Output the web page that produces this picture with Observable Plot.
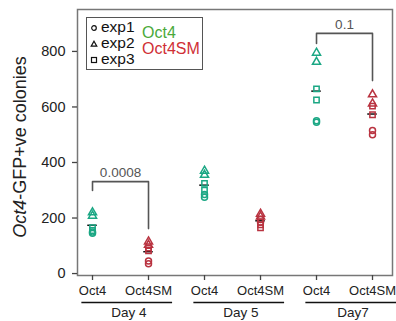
<!DOCTYPE html>
<html><head><meta charset="utf-8">
<script src="https://cdn.jsdelivr.net/npm/d3@7"></script>
<script src="https://cdn.jsdelivr.net/npm/@observablehq/plot@0.6"></script>
<style>
body{margin:0;background:#fff;font-family:"Liberation Sans",Arial,sans-serif;}
#wrap{position:relative;width:396px;height:321px;}
#legend{position:absolute;left:86px;top:17px;width:117px;height:53px;border:1.5px solid #555;box-sizing:border-box;background:#fff;font-size:15.5px;color:#111;}
#legend .row{position:absolute;left:3px;height:16px;line-height:16px;white-space:nowrap;}
#legend .row svg{vertical-align:middle;margin-right:3px;}
#legend .tr{position:absolute;left:55px;font-size:16px;line-height:15px;white-space:nowrap;}
</style></head><body><div id="wrap"></div>
<script>
// ---- data ----
const categories = ["Oct4", "Oct4SM", "Oct4", "Oct4SM", "Oct4", "Oct4SM"];
const positions = [1, 2, 3, 4, 5, 6];
const days = ["Day 4", "Day 5", "Day7"];
const experiments = ["exp1", "exp2", "exp3"];
// two replicate values per experiment, per position
const exp1 = [[145, 150], [35, 45], [285, 275], [195, 185], [550, 545], [515, 500]];
const exp2 = [[220, 208], [115, 103], [370, 355], [215, 205], [795, 762], [645, 612]];
const exp3 = [[165, 155], [92, 82], [325, 300], [175, 165], [665, 625], [603, 572]];
// significance brackets
const bracketLabels = ["0.0008", "0.1"];
const bracketLeft = [1, 5];
const bracketRight = [2, 6];
const bracketTop = [331, 865];
const bracketLeftEnd = [299, 829];
const bracketRightEnd = [162, 695];

// ---- build tables ----
const expVals = {exp1, exp2, exp3};
const data = [];
positions.forEach((p, i) => {
  experiments.forEach(e => expVals[e][i].forEach(v => data.push({pos: p, treatment: categories[i], exp: e, value: v})));
});
const means = positions.map((p, i) => ({pos: p, mean: d3.mean(data.filter(d => d.pos === p), d => d.value)}));
const bracketPts = [];
bracketLabels.forEach((l, k) => {
  bracketPts.push({id: k, x: bracketLeft[k], y: bracketLeftEnd[k]});
  bracketPts.push({id: k, x: bracketLeft[k], y: bracketTop[k]});
  bracketPts.push({id: k, x: bracketRight[k], y: bracketTop[k]});
  bracketPts.push({id: k, x: bracketRight[k], y: bracketRightEnd[k]});
});
const brackets = bracketLabels.map((l, k) => ({label: l, x: (bracketLeft[k] + bracketRight[k]) / 2, y: bracketTop[k]}));
const groups = days.map((d, k) => ({day: d, a: positions[2 * k], b: positions[2 * k + 1]}));
const yDomain = [-7, 951];

const chart = Plot.plot({
  width: 396, height: 321,
  marginLeft: 77, marginRight: 4, marginTop: 9, marginBottom: 46,
  style: {fontFamily: "'Liberation Sans', Arial, sans-serif", fontSize: "13px", color: "#222", background: "white"},
  x: {type: "linear", domain: [0.732, 6.357]},
  y: {domain: yDomain},
  color: {domain: ["Oct4", "Oct4SM"], range: ["#1ba784", "#b93340"]},
  symbol: {domain: experiments, range: ["circle", "triangle", "square"]},
  marks: [
    Plot.frame({stroke: "#777", strokeWidth: 1.5}),
    Plot.axisY({ticks: [0, 200, 400, 600, 800], tickSize: 5, tickPadding: 7, label: null, fontSize: 14.5, stroke: "#444", strokeWidth: 1.3}),
    Plot.axisX({ticks: positions, tickFormat: i => categories[i - 1], tickSize: 5, tickPadding: 5, label: null, fontSize: 13, stroke: "#444", strokeWidth: 1.3}),
    Plot.ruleY(means, {y: "mean", x1: d => d.pos - 0.085, x2: d => d.pos + 0.085, stroke: "#111", strokeWidth: 1.5}),
    Plot.dot(data, {x: "pos", y: "value", stroke: "treatment", symbol: "exp", r: 3, strokeWidth: 1.5}),
    Plot.line(bracketPts, {x: "x", y: "y", z: "id", stroke: "#555", strokeWidth: 1.6}),
    Plot.text(brackets, {x: "x", y: "y", text: "label", dy: -9, fill: "#555", fontSize: 13.5}),
    Plot.ruleY(groups, {y: () => yDomain[0], x1: d => d.a - 0.19, x2: d => d.b + 0.43, dy: 27, stroke: "#111", strokeWidth: 1.5}),
    Plot.text(groups, {x: d => (d.a + d.b) / 2 + 0.15, y: () => yDomain[0], dy: 37, text: "day", fontSize: 13.5, fill: "#222"})
  ]
});

const wrap = document.getElementById("wrap");
wrap.appendChild(chart);

// y-axis label with italic gene name
const svg = d3.select(chart);
const lab = svg.append("text")
  .attr("transform", "translate(21,147) rotate(-90)")
  .attr("text-anchor", "middle")
  .attr("dominant-baseline", "middle")
  .attr("font-size", 18)
  .attr("fill", "#222");
lab.append("tspan").attr("font-style", "italic").text("Oct4");
lab.append("tspan").text("-GFP+ve colonies");

// legend
const sym = {
  exp1: '<circle cx="4" cy="4" r="2.3" fill="none" stroke="#111" stroke-width="1.2"/>',
  exp2: '<path d="M4,1.2 L6.8,6.2 L1.2,6.2 Z" fill="none" stroke="#111" stroke-width="1.2"/>',
  exp3: '<rect x="1.5" y="1.5" width="5" height="5" fill="none" stroke="#111" stroke-width="1.2"/>'
};
const leg = document.createElement("div");
leg.id = "legend";
leg.innerHTML = experiments.map((e, i) =>
  `<div class="row" style="top:${1 + i * 16}px"><svg width="8" height="8">${sym[e]}</svg>${e}</div>`).join("") +
  `<div class="tr" style="top:7px;color:#4aa93a">Oct4</div>` +
  `<div class="tr" style="top:23px;color:#d02f36">Oct4SM</div>`;
wrap.appendChild(leg);
</script>
</body></html>
